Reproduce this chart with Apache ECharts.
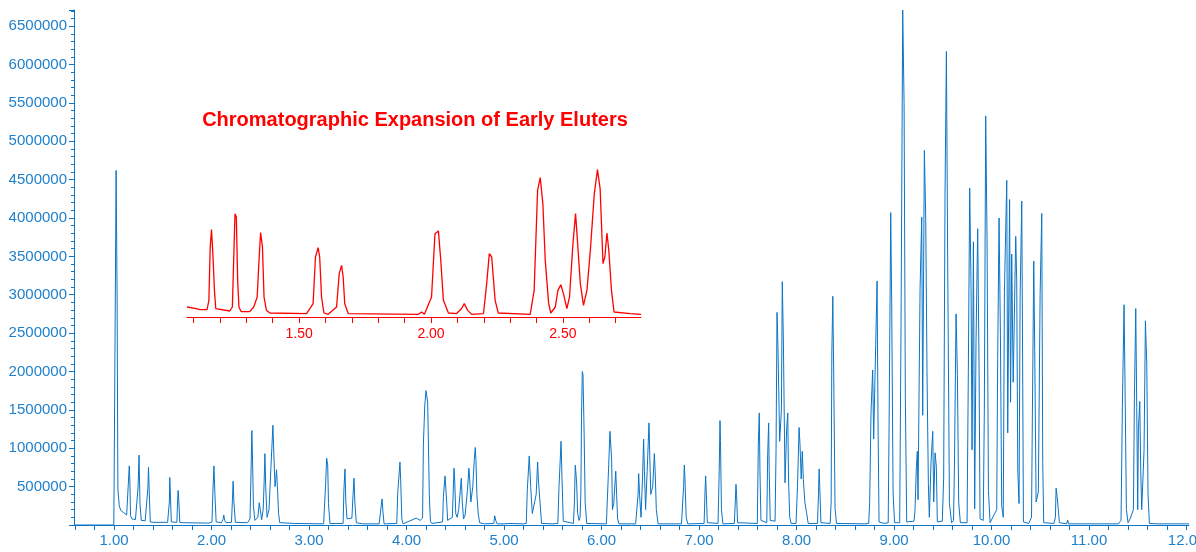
<!DOCTYPE html>
<html>
<head>
<meta charset="utf-8">
<script src="https://cdn.jsdelivr.net/npm/echarts@6/dist/echarts.min.js"></script>
<style>
html,body{margin:0;padding:0;background:#fff;}
#chart{width:1196px;height:552px;}
</style>
</head>
<body>
<div id="chart"></div>
<script>
// ---- Data (time in min, intensity in counts) ----
var traceEarly = [
[0.59,0],[0.998,0],[1.001,450000],[1.018,450000],[1.022,4620000],[1.032,2980000],[1.040,470000],[1.054,250000],[1.070,190000],[1.100,160000],[1.130,130000],[1.150,120000],
[1.157,770000],[1.163,560000],[1.170,120000],[1.185,80000],[1.220,70000],[1.240,70000],
[1.247,490000],[1.257,910000],[1.267,270000],[1.280,60000],[1.320,55000],[1.335,60000],
[1.348,480000],[1.354,750000],[1.362,420000],[1.372,40000],[1.400,35000],[1.550,35000],
[1.560,40000],[1.568,300000],[1.572,620000],[1.578,420000],[1.588,40000],
[1.645,35000],[1.652,300000],[1.658,450000],[1.664,340000],[1.675,35000],
[1.700,30000],[1.950,25000],[1.965,45000],[1.975,25000],
[2.005,40000],[2.015,450000],[2.025,770000],[2.035,400000],[2.048,40000]
];
var traceMid1 = [
[2.100,30000],[2.118,70000],[2.126,130000],[2.135,60000],[2.150,30000],
[2.205,35000],[2.215,330000],[2.222,570000],[2.230,300000],[2.245,35000],[2.370,30000],
[2.395,80000],[2.405,660000],[2.414,1230000],[2.420,900000],[2.430,250000],[2.445,60000],
[2.475,100000],[2.490,290000],[2.500,200000],[2.515,70000],
[2.530,200000],[2.540,560000],[2.548,930000],[2.556,500000],[2.570,100000],
[2.590,200000],[2.610,760000],[2.630,1300000],[2.640,900000],[2.652,500000],[2.660,600000],[2.667,720000],[2.676,500000],[2.688,150000],[2.700,30000],
[2.850,20000],[3.150,15000],
[3.160,20000],[3.170,520000],[3.181,870000],[3.192,780000],[3.200,280000],[3.215,20000],
[3.350,20000],[3.358,450000],[3.369,730000],[3.378,300000],[3.390,80000],
[3.440,90000],[3.452,400000],[3.462,610000],[3.470,300000],[3.485,30000],
[3.550,15000],[3.720,15000],
[3.735,30000],[3.745,300000],[3.750,340000],[3.758,180000],[3.770,15000],
[3.900,20000],[3.910,420000],[3.933,820000],[3.940,600000],[3.952,80000],[3.965,15000],
[4.100,90000],[4.120,80000],[4.140,60000],[4.165,90000],
[4.173,1040000],[4.187,1550000],[4.200,1750000],[4.217,1600000],[4.234,400000],[4.245,50000],[4.260,20000],
[4.370,40000],[4.378,360000],[4.395,640000],[4.412,300000],[4.422,60000],
[4.440,80000],[4.470,100000],[4.480,450000],[4.487,740000],[4.494,600000],[4.505,150000],[4.520,100000],[4.535,200000],[4.552,450000],[4.562,610000],[4.572,300000],[4.585,80000],[4.600,120000],[4.625,450000],[4.640,740000],[4.648,600000],[4.660,300000],[4.680,500000],[4.695,850000],[4.705,1010000],[4.712,850000],[4.722,400000],[4.735,150000],[4.750,30000],
[4.800,15000],[4.895,20000],[4.905,120000],[4.915,60000],[4.930,15000]
];
var traceMid2 = [
[5.000,15000],[5.050,20000],[5.200,15000],
[5.228,20000],[5.239,460000],[5.259,900000],[5.274,490000],[5.290,150000],[5.308,140000],[5.330,400000],[5.345,820000],[5.352,600000],[5.369,300000],[5.385,20000],
[5.500,15000],
[5.552,20000],[5.564,500000],[5.585,1090000],[5.595,600000],[5.608,50000],
[5.712,20000],[5.722,300000],[5.731,780000],[5.745,550000],[5.755,150000],[5.770,60000],
[5.780,100000],[5.788,400000],[5.795,1410000],[5.803,2000000],[5.810,1960000],[5.822,1170000],[5.832,300000],[5.848,20000],
[6.050,15000],
[6.055,30000],[6.067,560000],[6.087,1220000],[6.104,850000],[6.112,200000],[6.125,280000],[6.146,700000],[6.155,400000],[6.165,80000],[6.180,15000],
[6.350,15000],
[6.365,40000],[6.375,400000],[6.381,670000],[6.390,400000],[6.405,100000],[6.420,600000],[6.432,1120000],[6.440,700000],[6.452,200000],[6.468,700000],[6.487,1330000],[6.495,900000],[6.505,400000],[6.525,500000],[6.542,930000],[6.550,700000],[6.562,200000],[6.580,15000],
[6.820,15000],
[6.832,20000],[6.842,500000],[6.849,780000],[6.856,600000],[6.868,100000],[6.885,15000],
[7.052,20000],[7.062,450000],[7.068,640000],[7.075,400000],[7.085,30000],
[7.195,20000],[7.207,700000],[7.215,1360000],[7.220,1100000],[7.230,200000],[7.245,15000],
[7.362,20000],[7.372,300000],[7.379,530000],[7.385,400000],[7.395,30000],
[7.598,20000],[7.608,1040000],[7.618,1460000],[7.625,700000],[7.635,60000],
[7.695,30000],[7.704,900000],[7.714,1330000],[7.720,700000],[7.730,60000],
[7.780,50000],[7.790,980000],[7.800,2770000],[7.810,2280000],[7.827,1090000],[7.845,1500000],[7.854,3170000],[7.865,2410000],[7.882,550000],[7.899,1260000],[7.910,1460000],[7.918,600000],[7.930,100000],[7.945,20000],
[7.995,20000],[8.010,500000],[8.026,1270000],[8.036,1040000],[8.048,600000],[8.059,960000],[8.070,590000],[8.085,300000],[8.104,150000],[8.120,20000],
[8.215,20000],[8.225,400000],[8.232,730000],[8.238,500000],[8.250,30000],
[8.345,20000],[8.355,300000],[8.362,2240000],[8.372,2980000],[8.382,1890000],[8.395,220000],[8.410,20000]
];
var traceLate1 = [
[8.700,15000],[8.740,20000],
[8.750,290000],[8.764,1470000],[8.781,2020000],[8.791,1120000],[8.812,2350000],[8.826,3180000],[8.836,1300000],[8.846,40000],
[8.900,20000],[8.940,30000],
[8.949,1270000],[8.966,4070000],[8.976,2890000],[8.990,430000],[9.005,30000],
[9.058,30000],[9.072,2640000],[9.089,6710000],[9.103,5490000],[9.116,1670000],[9.130,40000],
[9.205,50000],[9.215,190000],[9.229,760000],[9.239,960000],[9.246,330000],[9.267,3080000],[9.284,4010000],[9.294,1430000],[9.311,4880000],[9.325,3990000],[9.338,2000000],[9.352,540000],[9.362,100000],
[9.379,810000],[9.397,1220000],[9.407,300000],[9.421,940000],[9.434,760000],[9.444,40000],
[9.495,50000],[9.509,610000],[9.523,4330000],[9.537,6170000],[9.550,3470000],[9.568,280000],[9.590,30000],
[9.610,60000],[9.619,720000],[9.636,2750000],[9.650,1950000],[9.663,300000],[9.680,30000],
[9.749,30000],[9.762,2000000],[9.776,4390000],[9.790,3070000],[9.800,980000],[9.814,3690000],[9.827,210000],[9.841,2410000],[9.858,3860000],[9.872,2040000],[9.882,80000],
[9.915,60000],[9.926,1510000],[9.940,5330000],[9.954,3720000],[9.968,450000],[9.985,30000]
];
var traceLate2 = [
[10.053,200000],[10.063,2170000],[10.077,4000000],[10.091,2480000],[10.104,250000],
[10.120,100000],[10.132,3030000],[10.156,4490000],[10.166,1200000],[10.185,4240000],[10.195,1600000],[10.207,3530000],[10.222,1860000],[10.248,3760000],[10.258,3190000],[10.269,720000],[10.282,280000],[10.293,2970000],[10.310,4220000],[10.320,1820000],[10.327,40000],
[10.380,20000],[10.410,100000],[10.419,1470000],[10.433,3440000],[10.443,2260000],[10.457,300000],[10.480,430000],[10.498,2990000],[10.515,4060000],[10.525,800000],[10.535,30000],
[10.640,20000],[10.655,100000],[10.662,480000],[10.675,340000],[10.696,30000],
[10.770,15000],[10.781,65000],[10.790,15000],
[11.300,15000],[11.328,60000],[11.342,1560000],[11.359,2870000],[11.369,1820000],[11.383,200000],[11.400,30000],[11.421,80000],[11.455,200000],[11.465,1650000],[11.479,2820000],[11.489,1530000],[11.499,200000],[11.506,1240000],[11.520,1610000],[11.530,720000],[11.540,200000],[11.564,970000],[11.578,2660000],[11.592,2090000],[11.605,400000],[11.619,20000],
[11.700,15000],[12.025,15000]
];
var insetTrace = [
[1.075,90000],[1.110,75000],[1.123,66000],[1.151,66000],[1.158,150000],[1.163,630000],[1.168,787000],[1.173,570000],[1.179,240000],[1.184,76000],[1.237,54000],[1.247,90000],[1.253,600000],[1.257,930000],[1.262,900000],[1.267,330000],[1.272,90000],[1.280,49000],[1.313,49000],[1.328,90000],[1.341,180000],[1.348,510000],[1.354,760000],[1.361,630000],[1.367,180000],[1.376,60000],[1.389,36000],[1.528,31000],[1.553,120000],[1.562,540000],[1.572,625000],[1.578,540000],[1.585,180000],[1.594,36000],[1.610,24000],[1.642,90000],[1.652,390000],[1.661,465000],[1.667,360000],[1.673,120000],[1.686,31000],[1.952,24000],[1.964,45000],[1.975,24000],[2.002,180000],[2.015,750000],[2.028,775000],[2.037,510000],[2.047,150000],[2.066,36000],[2.097,31000],[2.116,76000],[2.126,120000],[2.139,60000],[2.154,24000],[2.199,31000],[2.211,300000],[2.221,570000],[2.230,540000],[2.243,150000],[2.255,36000],[2.376,24000],[2.391,240000],[2.404,1140000],[2.414,1255000],[2.424,1020000],[2.433,510000],[2.446,120000],[2.454,36000],[2.471,90000],[2.481,240000],[2.492,290000],[2.502,210000],[2.515,76000],[2.525,180000],[2.538,660000],[2.548,930000],[2.555,690000],[2.566,300000],[2.578,105000],[2.591,240000],[2.604,600000],[2.619,1110000],[2.631,1327000],[2.641,1156000],[2.652,480000],[2.659,540000],[2.667,756000],[2.674,600000],[2.684,240000],[2.694,45000],[2.755,31000],[2.796,24000]
];
var xTickValues = [0.6,0.8,1.0,1.2,1.4,1.6,1.8,2.0,2.2,2.4,2.6,2.8,3.0,3.2,3.4,3.6,3.8,4.0,4.2,4.4,4.6,4.8,5.0,5.2,5.4,5.6,5.8,6.0,6.2,6.4,6.6,6.8,7.0,7.2,7.4,7.6,7.8,8.0,8.2,8.4,8.6,8.8,9.0,9.2,9.4,9.6,9.8,10.0,10.2,10.4,10.6,10.8,11.0,11.2,11.4,11.6,11.8,12.0];
var xLabelValues = [1,2,3,4,5,6,7,8,9,10,11,12];
var insetTickValues = [1.1,1.2,1.3,1.4,1.5,1.6,1.7,1.8,1.9,2.0,2.1,2.2,2.3,2.4,2.5,2.6,2.7];
var insetLabelValues = [1.5,2.0,2.5];
var titleText = 'Chromatographic Expansion of Early Eluters';

var mainTrace = traceEarly.concat(traceMid1, traceMid2, traceLate1, traceLate2);
var BLUE = '#0b74c4';
var BLUE_TXT = '#1f80cc';
var RED = '#ff0000';
var FONT = '"Liberation Sans", Arial, sans-serif';

var chart = echarts.init(document.getElementById('chart'), null, {renderer: 'canvas'});
chart.setOption({
  animation: false,
  backgroundColor: '#ffffff',
  grid: [
    {left: 74, top: 10, width: 1115, height: 515, containLabel: false, outerBoundsMode: 'none'},
    {left: 187, top: 167, width: 454, height: 150, containLabel: false, outerBoundsMode: 'none'}
  ],
  xAxis: [
    {
      type: 'value', gridIndex: 0, min: 0.59, max: 12.025,
      axisLine: {show: true, onZero: false, lineStyle: {color: BLUE, width: 1}},
      axisTick: {show: true, customValues: xTickValues, length: 5, lineStyle: {color: BLUE}},
      axisLabel: {show: true, customValues: xLabelValues, margin: 8, color: BLUE_TXT, fontSize: 15, fontFamily: FONT,
        formatter: function (v) { return Number(v).toFixed(2); }},
      splitLine: {show: false}
    },
    {
      type: 'value', gridIndex: 1, min: 1.075, max: 2.796,
      axisLine: {show: true, onZero: false, lineStyle: {color: RED, width: 1}},
      axisTick: {show: true, customValues: insetTickValues, length: 6, lineStyle: {color: RED}},
      axisLabel: {show: true, customValues: insetLabelValues, margin: 10, color: RED, fontSize: 14, fontFamily: FONT,
        formatter: function (v) { return Number(v).toFixed(2); }},
      splitLine: {show: false}
    }
  ],
  yAxis: [
    {
      type: 'value', gridIndex: 0, min: 0, max: 6710000, interval: 500000,
      axisLine: {show: true, lineStyle: {color: BLUE, width: 1}},
      axisTick: {show: true, length: 5, lineStyle: {color: BLUE}},
      minorTick: {show: true, splitNumber: 5, length: 3, lineStyle: {color: BLUE}},
      axisLabel: {show: true, margin: 7, color: BLUE_TXT, fontSize: 15, fontFamily: FONT,
        showMaxLabel: false, showMinLabel: false,
        formatter: function (v) { return (v === 0 || v % 500000 !== 0) ? '' : String(v); }},
      splitLine: {show: false},
      minorSplitLine: {show: false}
    },
    {
      type: 'value', gridIndex: 1, min: 0, max: 1350000, show: false,
      splitLine: {show: false}
    }
  ],
  graphic: [
    {type: 'text', x: 415, y: 120, z: 10,
     style: {text: titleText, fill: RED, font: 'bold 20px ' + FONT, align: 'center', verticalAlign: 'middle'}}
  ],
  series: [
    {type: 'line', xAxisIndex: 0, yAxisIndex: 0, data: mainTrace, showSymbol: false, symbol: 'none',
     lineStyle: {color: BLUE, width: 1}, silent: true, z: 3},
    {type: 'line', xAxisIndex: 1, yAxisIndex: 1, data: insetTrace, showSymbol: false, symbol: 'none',
     lineStyle: {color: RED, width: 1.3}, silent: true, z: 4}
  ]
});
</script>
</body>
</html>
